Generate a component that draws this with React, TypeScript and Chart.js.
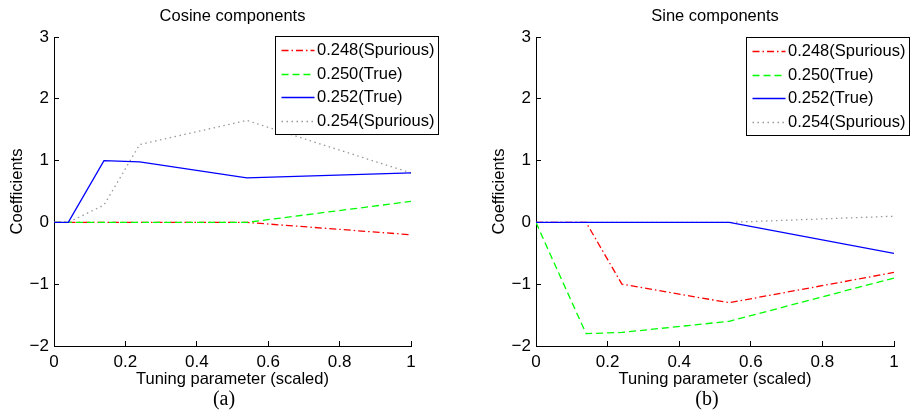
import React, { useEffect, useRef } from "react";
import { Chart, registerables } from "chart.js";

Chart.register(...registerables);

// ---- data ----
const tuning = [0, 0.04, 0.14, 0.24, 0.54, 1];
const seriesLabels = ["0.248(Spurious)", "0.250(True)", "0.252(True)", "0.254(Spurious)"];
const cos248 = [0, 0, 0, 0, 0, -0.2];
const cos250 = [0, 0, 0, 0, 0, 0.34];
const cos252 = [0, 0, 1.0, 0.98, 0.72, 0.8];
const cos254 = [0, 0, 0.28, 1.26, 1.65, 0.8];
const sin248 = [0, 0, 0, -1.0, -1.3, -0.81];
const sin250 = [0, -0.52, -1.8, -1.78, -1.6, -0.9];
const sin252 = [0, 0, 0, 0, 0, -0.5];
const sin254 = [0, 0, 0, 0, 0, 0.1];
const xTicks = [0, 0.2, 0.4, 0.6, 0.8, 1];
const yTicks = [-2, -1, 0, 1, 2, 3];

const FONT = "'Liberation Sans', Arial, Helvetica, sans-serif";

const styles = [
  { color: "#ff0000", dash: [7, 3, 1.5, 3], order: 3 },
  { color: "#00ff00", dash: [7, 4], order: 2 },
  { color: "#0000ff", dash: [] as number[], order: 0 },
  { color: "#999999", dash: [1.5, 3.5], order: 1 },
];

const fmtY = (v: number) => (v < 0 ? "\u2212" + Math.abs(v) : String(v));

const boxLegend = {
  id: "boxLegend",
  afterDatasetsDraw(chart: any, _args: any, opts: any) {
    const { ctx, chartArea } = chart;
    const left = Math.round(chartArea.right + opts.dx);
    const top = Math.round(chartArea.top + opts.dy);
    const w = opts.width;
    const h = opts.height;
    ctx.save();
    ctx.fillStyle = "#ffffff";
    ctx.fillRect(left, top, w, h);
    ctx.strokeStyle = "#000000";
    ctx.lineWidth = 1;
    ctx.setLineDash([]);
    ctx.strokeRect(left + 0.5, top + 0.5, w, h);
    seriesLabels.forEach((label, i) => {
      const st = styles[i];
      const y = Math.round(top + 14 + i * 23.7) + 0.5;
      ctx.beginPath();
      ctx.setLineDash(st.dash.slice());
      ctx.strokeStyle = st.color;
      ctx.lineWidth = 1.3;
      ctx.moveTo(left + 6.5, y);
      ctx.lineTo(left + 39.5, y);
      ctx.stroke();
      ctx.setLineDash([]);
      ctx.fillStyle = "#000000";
      ctx.font = "16.5px " + FONT;
      ctx.textAlign = "left";
      ctx.textBaseline = "middle";
      ctx.fillText(label, left + 42, y);
    });
    ctx.restore();
  },
};

function makeConfig(
  title: string,
  series: number[][],
  padRight: number,
  yWidth: number,
  yTitlePad: number,
  legendDx: number,
  legendDy: number
): any {
  return {
    type: "line",
    data: {
      datasets: series.map((vals, i) => ({
        label: seriesLabels[i],
        data: tuning.map((x, j) => ({ x, y: vals[j] })),
        borderColor: styles[i].color,
        borderDash: styles[i].dash.slice(),
        borderWidth: 1.3,
        pointRadius: 0,
        fill: false,
        tension: 0,
        order: styles[i].order,
      })),
    },
    options: {
      responsive: false,
      animation: false,
      layout: { padding: { left: 0, right: padRight, top: 0, bottom: 23 } },
      plugins: {
        legend: { display: false },
        tooltip: { enabled: false },
        title: {
          display: true,
          text: title,
          fullSize: false,
          color: "#000",
          font: { family: FONT, size: 16.5, weight: "normal", lineHeight: 1.2 },
          padding: { top: 7, bottom: 10.2 },
        },
        boxLegend: { dx: legendDx, dy: legendDy, width: 163, height: 98 },
      },
      scales: {
        x: {
          type: "linear",
          min: 0,
          max: 1,
          afterBuildTicks: (s: any) => {
            s.ticks = xTicks.map((v) => ({ value: v }));
          },
          afterFit: (s: any) => {
            s.height = 42;
          },
          ticks: {
            color: "#000",
            font: { family: FONT, size: 17 },
            padding: 11,
            maxRotation: 0,
            autoSkip: false,
            callback: (v: any) => String(v),
          },
          grid: { drawOnChartArea: false, drawTicks: true, tickLength: -5, color: "#000" },
          border: { display: true, color: "#000", width: 1 },
          title: {
            display: true,
            text: "Tuning parameter (scaled)",
            color: "#000",
            font: { family: FONT, size: 16.5, lineHeight: 1 },
            padding: { top: 0, bottom: 0 },
          },
        },
        y: {
          type: "linear",
          min: -2,
          max: 3,
          afterBuildTicks: (s: any) => {
            s.ticks = yTicks.map((v) => ({ value: v }));
          },
          afterFit: (s: any) => {
            s.width = yWidth;
          },
          ticks: {
            color: "#000",
            font: { family: FONT, size: 17 },
            padding: 10,
            autoSkip: false,
            callback: (v: any) => fmtY(Number(v)),
          },
          grid: { drawOnChartArea: false, drawTicks: true, tickLength: -5, color: "#000" },
          border: { display: true, color: "#000", width: 1 },
          title: {
            display: true,
            text: "Coefficients",
            color: "#000",
            font: { family: FONT, size: 16.5, lineHeight: 1.2 },
            padding: { top: yTitlePad, bottom: 0 },
          },
        },
      },
    },
    plugins: [boxLegend],
  };
}

function ChartCanvas({ config, left }: { config: any; left: number }) {
  const ref = useRef<HTMLCanvasElement | null>(null);
  useEffect(() => {
    if (!ref.current) return;
    const chart = new Chart(ref.current, config);
    return () => chart.destroy();
  }, [config]);
  return (
    <canvas
      ref={ref}
      width={455}
      height={411}
      style={{ position: "absolute", left, top: 0, width: 455, height: 411 }}
    />
  );
}

const cosConfig = makeConfig("Cosine components", [cos248, cos250, cos252, cos254], 44, 54, 7.5, -136, -1);
const sinConfig = makeConfig("Sine components", [sin248, sin250, sin252, sin254], 16, 81, 35, -148, 0);

const captionStyle: React.CSSProperties = {
  position: "absolute",
  top: 386,
  height: 24,
  lineHeight: "24px",
  textAlign: "center",
  fontFamily: "'Liberation Serif', 'Times New Roman', serif",
  fontSize: 20,
  color: "#000",
};

export default function App() {
  return (
    <div style={{ position: "absolute", left: 0, top: 0, width: 910, height: 411, background: "#fff", overflow: "hidden" }}>
      <ChartCanvas config={cosConfig} left={0} />
      <ChartCanvas config={sinConfig} left={455} />
      <div style={{ ...captionStyle, left: 184, width: 80 }}>(a)</div>
      <div style={{ ...captionStyle, left: 667, width: 80 }}>(b)</div>
    </div>
  );
}
